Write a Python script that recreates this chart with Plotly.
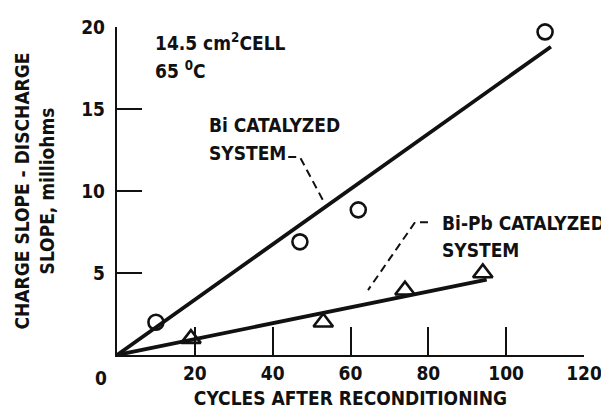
import plotly.graph_objects as go

# Data
bi_cycles = [10, 47, 62, 110]
bi_slope = [2.0, 6.9, 8.85, 19.7]
bipb_cycles = [19, 53, 74, 94]
bipb_slope = [1.0, 2.0, 3.95, 5.0]

# Fitted lines (drawn from origin)
bi_line_x = [0, 111.5]
bi_line_y = [0, 18.8]
bipb_line_x = [0, 95]
bipb_line_y = [0, 4.6]

x_ticks = [20, 40, 60, 80, 100, 120]
y_ticks = [5, 10, 15, 20]

FONT = "Liberation Sans Narrow, DejaVu Sans Condensed, Arial Narrow, Liberation Sans, sans-serif"
INK = "#111111"
FS = 19


def f(size=FS):
    return dict(family=FONT, size=size, color=INK, weight="bold")


fig = go.Figure()

fig.add_trace(go.Scatter(x=bi_line_x, y=bi_line_y, mode="lines",
                         line=dict(color=INK, width=3.8), showlegend=False, hoverinfo="skip"))
fig.add_trace(go.Scatter(x=bipb_line_x, y=bipb_line_y, mode="lines",
                         line=dict(color=INK, width=3.8), showlegend=False, hoverinfo="skip"))
fig.add_trace(go.Scatter(x=bi_cycles, y=bi_slope, mode="markers",
                         marker=dict(symbol="circle-open", size=15, color=INK, line=dict(width=2.6)),
                         showlegend=False, cliponaxis=False))
fig.add_trace(go.Scatter(x=bipb_cycles, y=bipb_slope, mode="markers",
                         marker=dict(symbol="triangle-up-open", size=17, color=INK, line=dict(width=2.6)),
                         showlegend=False, cliponaxis=False))

# Leader lines
leaders = [
    ([44.0, 47.0, 52.9], [12.07, 12.07, 9.45]),
    ([79.9, 76.6, 64.5], [8.1, 8.1, 3.96]),
]
for lx, ly in leaders:
    fig.add_trace(go.Scatter(x=lx, y=ly, mode="lines",
                             line=dict(color=INK, width=2, dash="8px,5px"),
                             showlegend=False, hoverinfo="skip"))

annots = [
    dict(x=9.3, y=19.1, text="14.5 cm<sup>2</sup>CELL"),
    dict(x=9.3, y=17.4, text="65 <sup>0</sup>C"),
    dict(x=23.1, y=14.0, text="Bi CATALYZED"),
    dict(x=23.1, y=12.3, text="SYSTEM"),
    dict(x=83.0, y=8.05, text="Bi-Pb CATALYZED"),
    dict(x=83.0, y=6.4, text="SYSTEM"),
]
for a in annots:
    fig.add_annotation(x=a["x"], y=a["y"], text=a["text"], xref="x", yref="y",
                       xanchor="left", yanchor="middle", showarrow=False, font=f())
# corner zero label
fig.add_annotation(x=0, y=0, text="0", xref="x", yref="y", xanchor="center", yanchor="top",
                   xshift=-16, yshift=-10, showarrow=False, font=f())

fig.update_xaxes(range=[0, 120], tickvals=x_ticks, ticks="inside", ticklen=28, tickwidth=2.2,
                 tickcolor=INK, showline=True, linecolor=INK, linewidth=2.4, showgrid=False,
                 zeroline=False, tickfont=f(), automargin=False, ticklabelstandoff=0,
                 title=dict(text="CYCLES AFTER RECONDITIONING", font=f(), standoff=9))
fig.update_yaxes(range=[0, 20], tickvals=y_ticks, ticks="inside", ticklen=25, tickwidth=2.2,
                 tickcolor=INK, showline=True, linecolor=INK, linewidth=2.4, showgrid=False,
                 zeroline=False, tickfont=f(), automargin=False, ticklabelstandoff=6,
                 title=dict(text="CHARGE SLOPE - DISCHARGE<br>SLOPE, milliohms", font=f(), standoff=22))

# page body has an 8px default margin, so the figure is 8px smaller and offset
fig.update_layout(width=601, height=406, margin=dict(l=109, r=25, t=19, b=59),
                  paper_bgcolor="white", plot_bgcolor="white", showlegend=False)

fig.write_html("out.html")
